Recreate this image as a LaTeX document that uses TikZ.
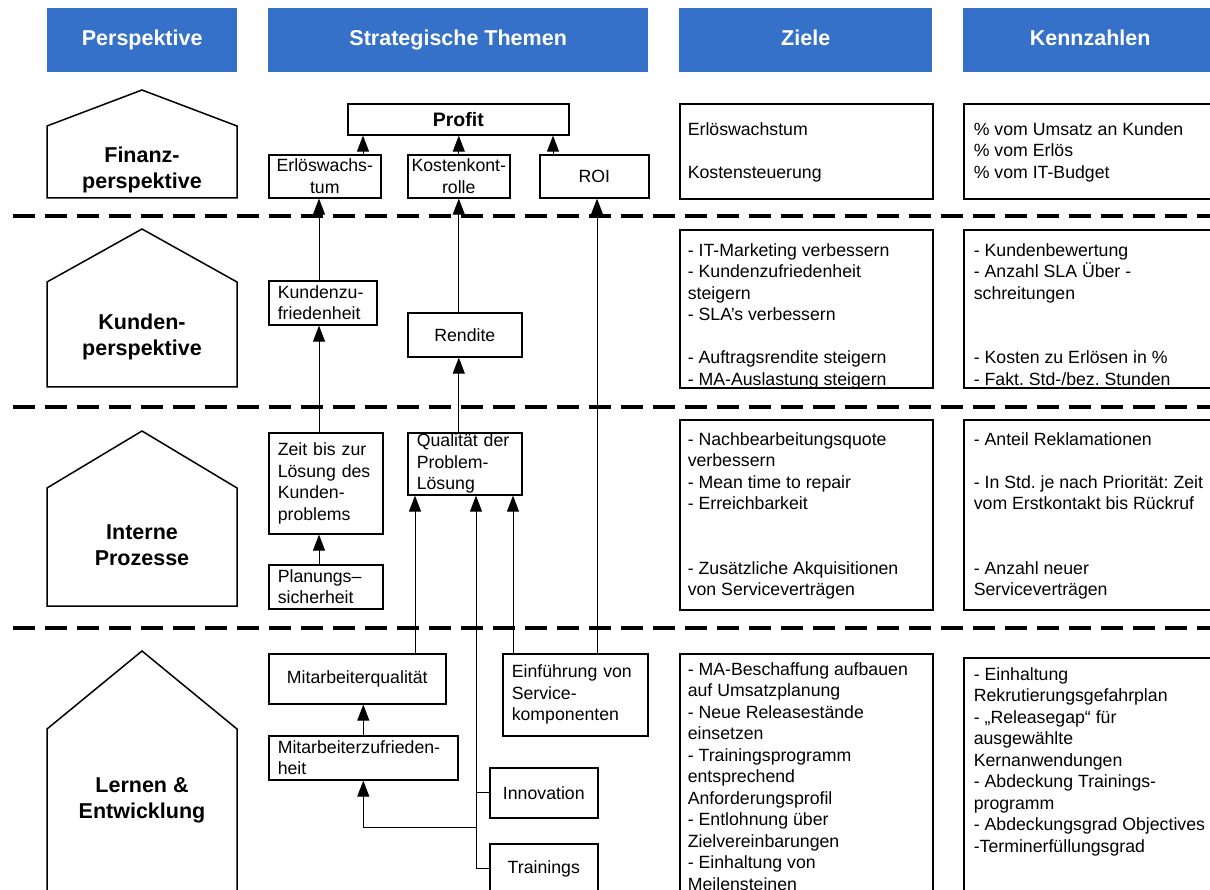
\documentclass[tikz,border=0pt]{standalone}
\usepackage{fontspec}
\setmainfont{Liberation Sans}
\usetikzlibrary{arrows.meta}
\frenchspacing
\definecolor{headblue}{HTML}{3570C9}
\newcommand{\bodyfont}{\fontsize{17.7pt}{21.5pt}\selectfont}
\newcommand{\headfont}{\fontsize{21.5pt}{26pt}\selectfont\bfseries}
\newcommand{\celltext}[3]{\parbox[t][#1][t]{237pt}{\raggedright\vspace*{#2}#3}}
\tikzset{headbox/.style={fill=headblue,text=white,font=\headfont,anchor=north west,inner sep=0pt,minimum height=64pt,text height=15.7pt,text depth=4.5pt},house/.style={draw,line width=1.5pt,line join=miter},housetext/.style={font=\headfont,align=center},tbox/.style={draw,line width=1.6pt,anchor=north west,inner sep=0pt,font=\bodyfont,align=center},tleft/.style={tbox,align=left,inner xsep=9pt},cell/.style={draw,line width=1.6pt,anchor=north west,inner xsep=8pt,inner ysep=0pt,font=\bodyfont},wire/.style={line width=1pt},uparrow/.style={wire,-{Triangle[length=16pt,width=12pt]}},laneline/.style={line width=4pt,dash pattern=on 22pt off 10pt}}
\begin{document}
\begin{tikzpicture}[x=1pt,y=-1pt]
\useasboundingbox (0,0) rectangle (1210,890);
\node[headbox,minimum width=190pt] (hpersp) at (47,8) {Perspektive};
\node[headbox,minimum width=380pt] (hthemen) at (268,8) {Strategische Themen};
\node[headbox,minimum width=253pt] (hziele) at (679,8) {Ziele};
\node[headbox,minimum width=254pt] (hkenn) at (963,8) {Kennzahlen};
\foreach \y in {216,407,628} \draw[laneline] (13,\y) -- (1215,\y);
\foreach \apex/\shoulder/\base/\ty/\name/\txt in {90/126/198/170/fin/{Finanz-\\perspektive},229/282/387/337/kun/{Kunden-\\perspektive},431/488/606/545/int/{Interne\\Prozesse},651/729/905/800/ler/{Lernen \&\\Entwicklung}}{
\draw[house] (47,\base) -- (47,\shoulder) -- (142,\apex) -- (237,\shoulder) -- (237,\base) -- cycle;
\node[housetext] (\name) at (142,\ty) {\txt};
}
\node[tbox,font=\fontsize{19.5pt}{23pt}\selectfont\bfseries,minimum width=221pt,minimum height=31pt] (profit) at (347,103) {Profit};
\node[tbox,minimum width=112pt,minimum height=43pt] (erloes) at (268,154) {Erlöswachs-\\tum};
\node[tbox,minimum width=102pt,minimum height=43pt] (kosten) at (407,154) {Kostenkont-\\rolle};
\node[tbox,minimum width=109pt,minimum height=43pt] (roi) at (539,154) {ROI};
\node[tleft,text width=90pt,minimum width=108pt,minimum height=44pt] (kzuf) at (268,280) {Kundenzu-\\friedenheit};
\node[tbox,minimum width=114pt,minimum height=44pt] (rendite) at (407,312) {Rendite};
\node[tleft,text width=96pt,minimum width=114pt,minimum height=101pt] (zeit) at (268,432) {Zeit bis zur\\Lösung des\\Kunden-\\problems};
\node[tleft,text width=96pt,minimum width=114pt,minimum height=62pt] (qual) at (407,432) {Qualität der\\Problem-\\Lösung};
\node[tleft,text width=96pt,minimum width=114pt,minimum height=44pt] (plan) at (268,564) {Planungs–\\sicherheit};
\node[tbox,minimum width=177pt,minimum height=50pt] (mqual) at (268,653) {Mitarbeiterqualität};
\node[tleft,text width=171pt,minimum width=189pt,minimum height=44pt] (mzuf) at (268,735) {Mitarbeiterzufrieden-\\heit};
\node[tleft,text width=127pt,minimum width=145pt,minimum height=82pt] (einf) at (502,653) {Einführung von\\Service-\\komponenten};
\node[tbox,minimum width=108pt,minimum height=50pt] (innov) at (489,767) {Innovation};
\node[tbox,minimum width=108pt,minimum height=50pt] (train) at (489,843) {Trainings};
\node[cell] (zfin) at (679,103) {\celltext{95pt}{18.5pt}{Erlöswachstum\\[21.5pt]Kostensteuerung}};
\node[cell] (zkun) at (679,229) {\celltext{158pt}{13.5pt}{- IT-Marketing verbessern\\- Kundenzufriedenheit\\steigern\\- SLA’s verbessern\\[21.5pt]- Auftragsrendite steigern\\- MA-Auslastung steigern}};
\node[cell] (zint) at (679,419) {\celltext{190pt}{12.5pt}{- Nachbearbeitungsquote\\verbessern\\- Mean time to repair\\- Erreichbarkeit\\[43pt]- Zusätzliche Akquisitionen\\von Serviceverträgen}};
\node[cell] (zler) at (679,653) {\celltext{250pt}{8.5pt}{- MA-Beschaffung aufbauen\\auf Umsatzplanung\\- Neue Releasestände\\einsetzen\\- Trainingsprogramm\\entsprechend\\Anforderungsprofil\\- Entlohnung über\\Zielvereinbarungen\\- Einhaltung von\\Meilensteinen}};
\node[cell,inner xsep=10pt] (kfin) at (963,103) {\celltext{95pt}{18.5pt}{\% vom Umsatz an Kunden\\\% vom Erlös\\\% vom IT-Budget}};
\node[cell,inner xsep=10pt] (kkun) at (963,229) {\celltext{158pt}{13.5pt}{- Kundenbewertung\\- Anzahl SLA Über -\\schreitungen\\[43pt]- Kosten zu Erlösen in \%\\- Fakt. Std-/bez. Stunden}};
\node[cell,inner xsep=10pt] (kint) at (963,419) {\celltext{190pt}{12.5pt}{- Anteil Reklamationen\\[21.5pt]- In Std. je nach Priorität: Zeit\\vom Erstkontakt bis Rückruf\\[43pt]- Anzahl neuer\\Serviceverträgen}};
\node[cell,inner xsep=10pt] (kler) at (963,657) {\celltext{245pt}{9.5pt}{- Einhaltung\\Rekrutierungsgefahrplan\\- „Releasegap“ für\\ausgewählte\\Kernanwendungen\\- Abdeckung Trainings-\\programm\\- Abdeckungsgrad Objectives\\-Terminerfüllungsgrad}};
\draw[uparrow] (erloes.north-|363,0) -- (profit.south-|363,0);
\draw[uparrow] (kosten.north) -- (profit.south-|kosten.north);
\draw[uparrow] (roi.north-|553,0) -- (profit.south-|553,0);
\draw[uparrow] (kzuf.north-|319,0) -- (erloes.south-|319,0);
\draw[uparrow] (zeit.north-|319,0) -- (kzuf.south-|319,0);
\draw[uparrow] (plan.north-|319,0) -- (zeit.south-|319,0);
\draw[uparrow] (rendite.north-|kosten.south) -- (kosten.south);
\draw[uparrow] (qual.north-|kosten.south) -- (rendite.south-|kosten.south);
\draw[uparrow] (mqual.north-|415,0) -- (qual.south-|415,0);
\draw[uparrow] (mzuf.north) -- (mqual.south-|mzuf.north);
\draw[uparrow] (einf.north-|513,0) -- (qual.south-|513,0);
\draw[uparrow] (einf.north-|597,0) -- (roi.south-|597,0);
\draw[uparrow] (train.west) -| (qual.south-|476,0);
\draw[wire] (innov.west) -- (innov.west-|476,0);
\coordinate (fork) at (476,827);
\draw[uparrow] (fork) -| (mzuf.south);
\end{tikzpicture}
\end{document}
